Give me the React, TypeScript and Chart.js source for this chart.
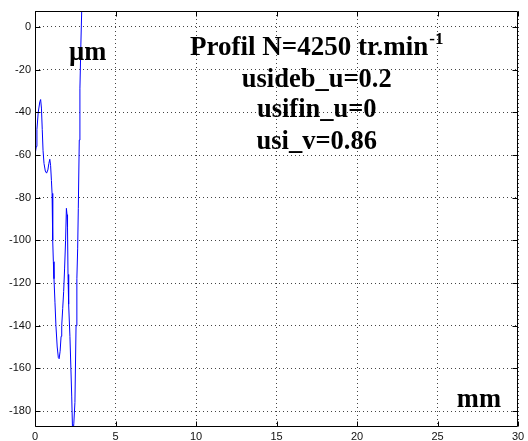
import React, { useEffect, useRef } from "react";
import { Chart, registerables } from "chart.js";

Chart.register(...registerables);

// ---- data (mm, µm) ----
const profileX = [
  0, 0.08, 0.12, 0.2, 0.3, 0.35, 0.4, 0.45, 0.5, 0.56, 0.64, 0.72, 0.8, 0.86,
  0.92, 0.97, 1.02, 1.06, 1.1, 1.14, 1.18, 1.24, 1.3, 1.38, 1.45, 1.5, 1.56,
  1.62, 1.66, 1.72, 1.78, 1.84, 1.9, 1.95, 1.99, 2.02, 2.05, 2.09, 2.17, 2.23,
  2.28, 2.34, 2.41, 2.48, 2.55, 2.6, 2.65, 2.69, 2.75, 2.79, 2.85, 2.9, 2.95,
];
const profileY = [
  -60, -56, -48, -40, -35, -34, -38, -48, -58, -64, -67.5, -68.5, -67, -64,
  -62, -65, -72, -78, -100, -110, -118, -129, -140, -150, -155, -155.5, -152,
  -145, -140, -132, -124, -113, -100, -85, -88, -94, -116, -130, -145, -160,
  -173, -192, -186, -176, -140, -118, -104, -85, -53, -29, -8, 7.5, 20,
];

const xTicks = [0, 5, 10, 15, 20, 25, 30];
const yTicks = [-180, -160, -140, -120, -100, -80, -60, -40, -20, 0];
const xMin = 0;
const xMax = 30;
const yMin = -187.5;
const yMax = 7.5;

// text annotations (data coordinates)
const unitY = "µm";
const unitX = "mm";
const titleMain = "Profil N=4250 tr.min";
const titleSup = "-1";
const infoLines = ["usideb_u=0.2", "usifin_u=0", "usi_v=0.86"];
const unitYPos = [2.11, -15.3];
const unitXPos = [26.2, -178];
const titleCenterX = 17.5;
const titleBaselines = [-13.3, -28.1, -42.2, -57.0];

const SERIF = "'Liberation Serif', 'Times New Roman', serif";

const framePlugin = {
  id: "matlabFrame",
  afterDatasetsDraw(chart: any) {
    const { ctx, chartArea, scales } = chart;
    const { left, right, top, bottom } = chartArea;
    const xs = scales.x;
    const ys = scales.y;
    ctx.save();
    ctx.strokeStyle = "#000";
    ctx.lineWidth = 1;
    ctx.setLineDash([]);
    // box
    const L = Math.round(left) + 0.5;
    const R = Math.round(right) - 0.5;
    const T = Math.round(top) + 0.5;
    const B = Math.round(bottom) - 0.5;
    ctx.beginPath();
    ctx.rect(L, T, R - L, B - T);
    ctx.stroke();
    // inward ticks
    const tl = 5;
    ctx.beginPath();
    for (const v of xTicks) {
      const px = Math.round(xs.getPixelForValue(v)) + 0.5;
      ctx.moveTo(px, B);
      ctx.lineTo(px, B - tl);
      ctx.moveTo(px, T);
      ctx.lineTo(px, T + tl);
    }
    for (const v of yTicks) {
      const py = Math.round(ys.getPixelForValue(v)) + 0.5;
      ctx.moveTo(L, py);
      ctx.lineTo(L + tl, py);
      ctx.moveTo(R, py);
      ctx.lineTo(R - tl, py);
    }
    ctx.stroke();

    // annotations
    ctx.fillStyle = "#000";
    ctx.textBaseline = "alphabetic";
    const big = `bold 26.5px ${SERIF}`;
    const titleFont = `bold 27px ${SERIF}`;
    const small = `bold 17px ${SERIF}`;
    ctx.font = big;
    ctx.textAlign = "left";
    ctx.fillText(unitY, xs.getPixelForValue(unitYPos[0]), ys.getPixelForValue(unitYPos[1]));
    ctx.fillText(unitX, xs.getPixelForValue(unitXPos[0]), ys.getPixelForValue(unitXPos[1]));

    const cx = xs.getPixelForValue(titleCenterX);
    // title with superscript
    ctx.font = titleFont;
    const wMain = ctx.measureText(titleMain).width;
    ctx.font = small;
    const wSup = ctx.measureText(titleSup).width;
    const start = cx - (wMain + wSup + 1) / 2;
    const by = ys.getPixelForValue(titleBaselines[0]);
    ctx.font = titleFont;
    ctx.fillText(titleMain, start, by);
    ctx.font = small;
    ctx.fillText(titleSup, start + wMain + 1, by - 11.5);

    ctx.font = big;
    ctx.textAlign = "center";
    infoLines.forEach((t, i) => {
      ctx.fillText(t, cx, ys.getPixelForValue(titleBaselines[i + 1]));
    });
    ctx.restore();
  },
};

export default function App() {
  const ref = useRef<HTMLCanvasElement | null>(null);

  useEffect(() => {
    document.body.style.margin = "0";
    const canvas = ref.current;
    if (!canvas) return;
    const points = profileX.map((x, i) => ({ x, y: profileY[i] }));
    const tickFont = { family: "'Liberation Sans', Arial, sans-serif", size: 11 };
    const chart = new Chart(canvas, {
      type: "scatter",
      data: {
        datasets: [
          {
            data: points,
            showLine: true,
            borderColor: "#0000ff",
            backgroundColor: "#0000ff",
            borderWidth: 1,
            pointRadius: 0,
            tension: 0,
          },
        ],
      },
      options: {
        animation: false,
        responsive: false,
        devicePixelRatio: 1,
        layout: { padding: { left: 0, top: 11, right: 10, bottom: 0 } },
        plugins: {
          legend: { display: false },
          tooltip: { enabled: false },
        },
        scales: {
          x: {
            type: "linear",
            min: xMin,
            max: xMax,
            afterBuildTicks: (s: any) => {
              s.ticks = xTicks.map((v) => ({ value: v }));
            },
            afterFit: (s: any) => {
              s.height = 14;
            },
            ticks: {
              font: tickFont,
              color: "#111",
              padding: 3,
              maxRotation: 0,
              autoSkip: false,
              callback: (v: any) => String(v),
            },
            grid: {
              color: "#444",
              lineWidth: 1,
              drawTicks: false,
            },
            border: { display: false, dash: [1, 3] },
          },
          y: {
            type: "linear",
            min: yMin,
            max: yMax,
            afterBuildTicks: (s: any) => {
              s.ticks = yTicks.map((v) => ({ value: v }));
            },
            afterFit: (s: any) => {
              s.width = 35;
            },
            ticks: {
              font: tickFont,
              color: "#111",
              padding: 4,
              autoSkip: false,
              callback: (v: any) => String(v),
            },
            grid: {
              color: "#444",
              lineWidth: 1,
              drawTicks: false,
            },
            border: { display: false, dash: [1, 3] },
          },
        },
      },
      plugins: [framePlugin],
    } as any);
    return () => chart.destroy();
  }, []);

  return (
    <div style={{ position: "absolute", left: 0, top: 0, width: 528, height: 441, background: "#fff" }}>
      <canvas ref={ref} width={528} height={441} style={{ width: 528, height: 441, display: "block" }} />
    </div>
  );
}
